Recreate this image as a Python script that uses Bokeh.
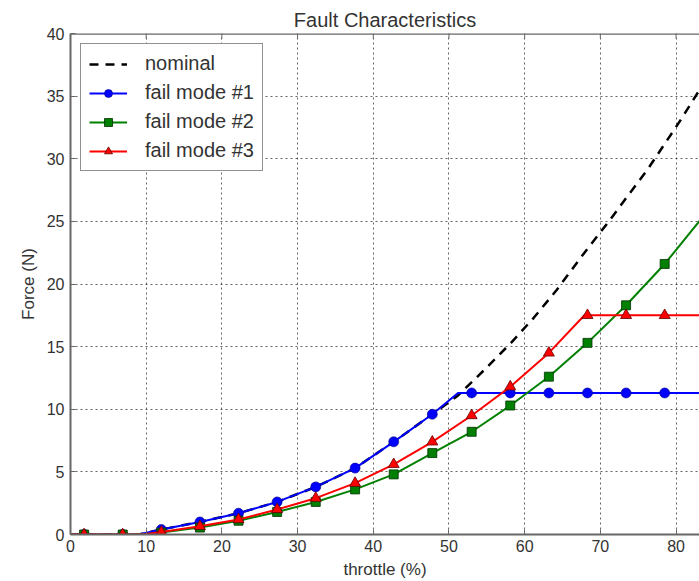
from bokeh.plotting import figure
from bokeh.models import Range1d, Legend, LegendItem, FixedTicker, Span
from bokeh.embed import file_html
from bokeh.resources import INLINE

title_text = "Fault Characteristics"
x_label = "throttle (%)"
y_label = "Force (N)"
x_ticks = [0, 10, 20, 30, 40, 50, 60, 70, 80]
y_ticks = [0, 5, 10, 15, 20, 25, 30, 35, 40]

# marker positions
marker_x = [1.8, 6.9, 12.0, 17.1, 22.2, 27.3, 32.4, 37.6, 42.7, 47.8, 53.0, 58.1, 63.2, 68.3, 73.4, 78.5]
fm1_marker_y = [0.0, 0.0, 0.4, 1.0, 1.7, 2.6, 3.8, 5.3, 7.4, 9.6, 11.3, 11.3, 11.3, 11.3, 11.3, 11.3]
fm2_marker_y = [0.0, 0.0, 0.15, 0.55, 1.1, 1.8, 2.6, 3.6, 4.8, 6.5, 8.2, 10.3, 12.6, 15.3, 18.3, 21.6]
fm3_marker_y = [0.0, 0.0, 0.2, 0.65, 1.2, 2.0, 2.9, 4.1, 5.6, 7.4, 9.5, 11.8, 14.5, 17.5, 17.5, 17.5]

# line paths
nominal_x = [0.0, 9.0, 12.0, 17.1, 22.2, 27.3, 32.4, 37.6, 42.7, 47.8, 51.2, 54.6, 58.2, 61.2, 64.2, 67.9, 71.0, 76.3, 80.4, 82.9, 84.0]
nominal_y = [0.0, 0.0, 0.4, 1.0, 1.7, 2.6, 3.8, 5.3, 7.4, 9.6, 11.1, 13.1, 15.3, 17.3, 19.5, 22.5, 24.9, 29.2, 32.9, 35.3, 36.3]
fm1_x = [0.0, 9.0, 12.0, 17.1, 22.2, 27.3, 32.4, 37.6, 42.7, 47.8, 51.2, 84.0]
fm1_y = [0.0, 0.0, 0.4, 1.0, 1.7, 2.6, 3.8, 5.3, 7.4, 9.6, 11.3, 11.3]
fm2_x = [0.0, 9.5, 12.0, 17.1, 22.2, 27.3, 32.4, 37.6, 42.7, 47.8, 53.0, 58.1, 63.2, 68.3, 73.4, 78.5, 83.2, 84.0]
fm2_y = [0.0, 0.0, 0.15, 0.55, 1.1, 1.8, 2.6, 3.6, 4.8, 6.5, 8.2, 10.3, 12.6, 15.3, 18.3, 21.6, 25.1, 25.7]
fm3_x = [0.0, 9.5, 12.0, 17.1, 22.2, 27.3, 32.4, 37.6, 42.7, 47.8, 53.0, 58.1, 63.2, 67.9, 84.0]
fm3_y = [0.0, 0.0, 0.2, 0.65, 1.2, 2.0, 2.9, 4.1, 5.6, 7.4, 9.5, 11.8, 14.5, 17.5, 17.5]

FONT = "Liberation Sans"
TXT = "#333333"
SPINE = "#666666"

p = figure(width=699, height=581, x_range=Range1d(0, 83.1), y_range=Range1d(0, 40),
           output_backend="svg", toolbar_location=None,
           min_border_left=70, min_border_right=0, min_border_top=33, min_border_bottom=45)
p.outline_line_color = None
p.background_fill_color = "white"

p.title.text = title_text
p.title.align = "center"
p.title.text_font = FONT
p.title.text_font_size = "20px"
p.title.text_font_style = "normal"
p.title.text_color = TXT
p.title.standoff = 6

for ax, ticks in ((p.xaxis[0], x_ticks), (p.yaxis[0], y_ticks)):
    ax.ticker = FixedTicker(ticks=ticks)
    ax.major_tick_in = 5
    ax.major_tick_out = 0
    ax.minor_tick_in = 0
    ax.minor_tick_out = 0
    ax.axis_line_color = SPINE
    ax.axis_line_width = 2
    ax.major_tick_line_color = SPINE
    ax.major_label_text_font = FONT
    ax.major_label_text_font_size = "16px"
    ax.major_label_text_color = TXT
    ax.axis_label_text_font = FONT
    ax.axis_label_text_font_size = "17px"
    ax.axis_label_text_font_style = "normal"
    ax.axis_label_text_color = TXT
p.xaxis[0].axis_label = x_label
p.yaxis[0].axis_label = y_label
p.xaxis[0].major_label_standoff = 5
p.xaxis[0].axis_label_standoff = 5
p.yaxis[0].major_label_standoff = 6
p.yaxis[0].axis_label_standoff = 6

# top spine and inward top ticks
p.add_layout(Span(location=40, dimension="width", line_color=SPINE, line_width=2.5))
p.segment(x0=x_ticks, y0=[40] * len(x_ticks), x1=x_ticks, y1=[39.6] * len(x_ticks),
          line_color=SPINE, line_width=1)

for g, ticks in ((p.xgrid[0], x_ticks), (p.ygrid[0], y_ticks)):
    g.ticker = FixedTicker(ticks=ticks)
    g.grid_line_color = "#222222"
    g.grid_line_alpha = 0.7
    g.grid_line_dash = "2 3"
    g.grid_line_width = 1

r_nom = p.line(nominal_x, nominal_y, line_color="black", line_width=2.5, line_dash="9 7")
r1l = p.line(fm1_x, fm1_y, line_color="#0000ff", line_width=2)
r1m = p.scatter(marker_x, fm1_marker_y, marker="circle", size=10, fill_color="#0000ff",
                line_color="#000080", line_width=0.6)
r2l = p.line(fm2_x, fm2_y, line_color="#008000", line_width=2)
r2m = p.scatter(marker_x, fm2_marker_y, marker="square", size=9, fill_color="#008000",
                line_color="#003000", line_width=0.8)
r3l = p.line(fm3_x, fm3_y, line_color="#ff0000", line_width=2)
r3m = p.scatter(marker_x, fm3_marker_y, marker="triangle", size=11, fill_color="#ff0000",
                line_color="#600000", line_width=0.8)

legend = Legend(items=[
    LegendItem(label="nominal", renderers=[r_nom]),
    LegendItem(label="fail mode #1", renderers=[r1l, r1m]),
    LegendItem(label="fail mode #2", renderers=[r2l, r2m]),
    LegendItem(label="fail mode #3", renderers=[r3l, r3m]),
], location="top_left")
legend.margin = 10
legend.padding = 8
legend.spacing = 6
legend.glyph_width = 38
legend.glyph_height = 20
legend.label_height = 20
legend.label_standoff = 18
legend.label_text_font = FONT
legend.label_text_font_size = "20px"
legend.label_text_color = TXT
legend.border_line_color = "#222222"
legend.border_line_width = 1.5
legend.background_fill_color = "white"
legend.background_fill_alpha = 1.0
p.add_layout(legend, "center")

open("out.html", "w").write(file_html(p, INLINE))
